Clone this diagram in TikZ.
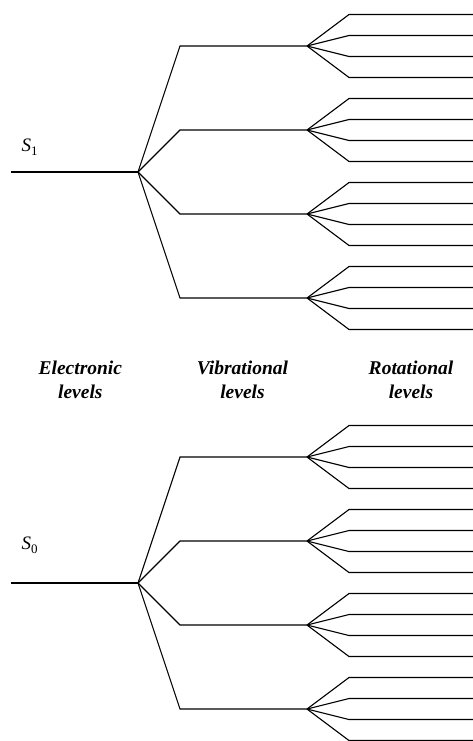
\documentclass[tikz,border=0pt]{standalone}
\usepackage{fontspec}
\setmainfont{Liberation Serif}
\begin{document}
\begin{tikzpicture}[x=1pt,y=-1pt,
  lvl/.style={line width=1.1pt,black,line join=miter},
  title/.style={align=center,inner sep=0pt,font=\bfseries\itshape\fontsize{19.5}{24}\selectfont},
  state/.style={inner sep=0pt,anchor=base west,font=\fontsize{19}{20}\selectfont}]
\useasboundingbox (0,0) rectangle (473,741);
% electronic states: S1 at y=172, S0 at y=583
\foreach \s/\ey/\lab/\by in {A/172/1/151.7, B/583/0/549.7}{
  \coordinate (\s-es) at (11,\ey);
  \coordinate (\s-eb) at (138,\ey);
  \draw[lvl] (\s-es) -- (\s-eb);
  \node[state] (\s-lab) at (21.5,\by) {\textit{S}\raisebox{-4pt}{\fontsize{13}{14}\selectfont\lab}};
  \foreach \v/\dv in {1/-126,2/-42,3/42,4/126}{
    \coordinate (\s-v\v s) at (180,\ey+\dv);
    \coordinate (\s-v\v e) at (307,\ey+\dv);
    \draw[lvl] (\s-eb) -- (\s-v\v s) -- (\s-v\v e);
    \foreach \r/\dr in {1/-31.5,2/-10.5,3/10.5,4/31.5}{
      \coordinate (\s-v\v r\r s) at (349,\ey+\dv+\dr);
      \coordinate (\s-v\v r\r e) at (474,\ey+\dv+\dr);
      \draw[lvl] (\s-v\v e) -- (\s-v\v r\r s) -- (\s-v\v r\r e);
    }
  }
}
\node[title] (tel) at (80.3,380) {Electronic\\levels};
\node[title] (tvib) at (242.5,380) {Vibrational\\levels};
\node[title] (trot) at (411,380) {Rotational\\levels};
\end{tikzpicture}
\end{document}
